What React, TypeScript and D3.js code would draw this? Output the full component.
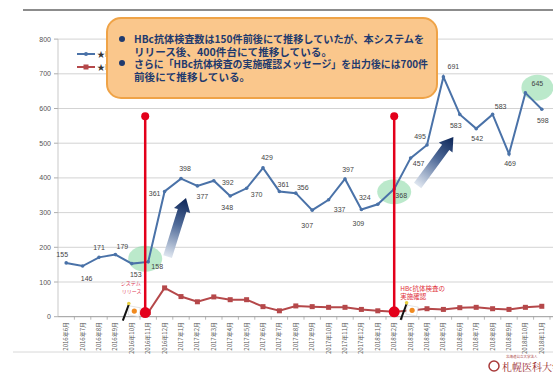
import React from "react";
import * as d3 from "d3";

const months = [
  "2016年6月","2016年7月","2016年8月","2016年9月","2016年10月","2016年11月","2016年12月",
  "2017年1月","2017年2月","2017年3月","2017年4月","2017年5月","2017年6月","2017年7月",
  "2017年8月","2017年9月","2017年10月","2017年11月","2017年12月",
  "2018年1月","2018年2月","2018年3月","2018年4月","2018年5月","2018年6月","2018年7月",
  "2018年8月","2018年9月","2018年10月","2018年11月",
];
const hbcCounts = [155,146,171,179,153,158,361,398,377,392,348,370,429,361,356,307,337,397,309,324,368,457,495,691,583,542,583,469,645,598];
const confirmCounts: (number | null)[] = [null,null,null,null,null,12,83,58,43,57,49,49,29,17,31,29,27,27,21,17,14,18,23,21,26,27,23,21,27,30];
const yTicks = [0,100,200,300,400,500,600,700,800];
const legendLabels = ["★HBc抗体検査数","★HBc抗体検査実施確認数"];
const calloutLines = [
  "HBc抗体検査数は150件前後にて推移していたが、本システムを",
  "リリース後、400件台にて推移している。",
  "さらに「HBc抗体検査の実施確認メッセージ」を出力後には700件",
  "前後にて推移している。",
];
// label placement (style only): [dx, dy]
const labelOffsets: [number, number][] = [
  [-4,-8],[4,12],[0,-10],[7,-8],[4,11],[9,5],[-10,2],[4,-10],[5,11],[14,2],[-3,12],[10,6],
  [4,-10],[4,-7],[7,-6],[-5,15],[11,10],[3,-9],[-3,14],[-13,-7],[7,6],[8,5],[-7,-8],[10,-10],
  [-4,11],[1,10],[8,-8],[1,10],[12,-9],[1,11],
];

const FONT = "'Noto Sans CJK JP', 'Noto Sans', sans-serif";

export default function App() {
  const W = 553, H = 374;
  const x = d3.scalePoint<string>().domain(months).range([58, 550]).padding(0.5);
  const y = d3.scaleLinear().domain([0, 800]).range([316.7, 39.1]);
  const xs = (i: number) => x(months[i]) as number;

  const blueLine = d3.line<number>().x((_, i) => xs(i)).y((d) => y(d));
  const redLine = d3
    .line<number | null>()
    .defined((d) => d != null)
    .x((_, i) => xs(i))
    .y((d) => y(d as number));

  const blue = "#4a72a8";
  const red = "#b5484a";
  const vRed = "#e3001b";

  const arrow = (x0: number, y0: number, x1: number, y1: number, id: string) => {
    const L = Math.hypot(x1 - x0, y1 - y0);
    const ang = (Math.atan2(y1 - y0, x1 - x0) * 180) / Math.PI;
    const hl = 13, sw = 4.5, hw = 8.5;
    const pts = [
      [0, -sw], [L - hl, -sw], [L - hl, -hw], [L, 0], [L - hl, hw], [L - hl, sw], [0, sw],
    ].map((p) => p.join(",")).join(" ");
    return (
      <g transform={`translate(${x0},${y0}) rotate(${ang})`}>
        <linearGradient id={id} x1="0" y1="0" x2={L} y2="0" gradientUnits="userSpaceOnUse">
          <stop offset="0" stopColor="#dfe6f0" />
          <stop offset="0.55" stopColor="#4f6a98" />
          <stop offset="1" stopColor="#0c2557" />
        </linearGradient>
        <polygon points={pts} fill={`url(#${id})`} />
      </g>
    );
  };

  const flag = (cx: number, cy: number) => (
    <g>
      <line x1={cx - 10} y1={cy + 10} x2={cx - 4} y2={cy - 6} stroke="#111" strokeWidth={2} />
      <circle cx={cx - 4} cy={cy - 7} r={1.8} fill="#e8d040" />
      <rect x={cx - 4} y={cy - 4} width={11} height={9} fill="#fff" stroke="#ccc" strokeWidth={0.5} transform={`rotate(10 ${cx} ${cy})`} />
      <circle cx={cx + 1.5} cy={cy + 0.5} r={2.6} fill="#f08a20" />
    </g>
  );

  return (
    <svg width={W} height={H} style={{ position: "absolute", left: 0, top: 0, background: "#fff" }} fontFamily={FONT}>
      {/* top rule */}
      <line x1={23} x2={553} y1={10} y2={10} stroke="#666" strokeWidth={1.5} />
      {/* bottom rule */}
      <line x1={13} x2={553} y1={352} y2={352} stroke="#d8d8d8" strokeWidth={1} />

      {/* grid + y ticks */}
      {yTicks.map((t) => (
        <g key={t}>
          <line x1={58} x2={553} y1={y(t)} y2={y(t)} stroke={t === 0 ? "#999" : "#c8c8c8"} strokeWidth={t === 0 ? 1 : 0.8} />
          <line x1={54} x2={58} y1={y(t)} y2={y(t)} stroke="#999" strokeWidth={0.8} />
          <text x={51} y={y(t) + 2.5} textAnchor="end" fontSize={7} fill="#555" fontFamily="'Liberation Sans', sans-serif">{t}</text>
        </g>
      ))}
      <line x1={58} x2={58} y1={y(800)} y2={y(0)} stroke="#bbb" strokeWidth={0.8} />

      {/* x ticks and labels */}
      {months.map((m, i) => (
        <g key={m}>
          <line x1={xs(i) + 8.2} x2={xs(i) + 8.2} y1={y(0)} y2={y(0) + 3} stroke="#999" strokeWidth={0.7} />
          <text transform={`translate(${xs(i) + 2},${322}) rotate(-90)`} textAnchor="end" fontSize={6} fill="#555">{m}</text>
        </g>
      ))}

      {/* green highlight ellipses */}
      <ellipse cx={xs(5) - 3} cy={y(167)} rx={17} ry={13} fill="#8edaa9" opacity={0.6} />
      <ellipse cx={xs(20)} cy={y(360)} rx={17} ry={12.5} fill="#8edaa9" opacity={0.6} />
      <ellipse cx={xs(28) + 12} cy={y(660)} rx={16} ry={13} fill="#8edaa9" opacity={0.6} />

      {/* red series */}
      <path d={redLine(confirmCounts) || ""} fill="none" stroke={red} strokeWidth={2} />
      {confirmCounts.map((v, i) =>
        v == null ? null : <rect key={i} x={xs(i) - 2.5} y={y(v) - 2.5} width={5} height={5} fill={red} />
      )}

      {/* blue series */}
      <path d={blueLine(hbcCounts) || ""} fill="none" stroke={blue} strokeWidth={2} />
      {hbcCounts.map((v, i) => (
        <circle key={i} cx={xs(i)} cy={y(v)} r={1.8} fill={blue} />
      ))}
      {hbcCounts.map((v, i) => (
        <text key={"l" + i} x={xs(i) + labelOffsets[i][0]} y={y(v) + labelOffsets[i][1] + 2.5} textAnchor="middle" fontSize={7} fill="#444" fontFamily="'Liberation Sans', sans-serif">{v}</text>
      ))}

      {/* arrows */}
      {arrow(xs(6) + 3, y(173), xs(7) + 5, y(342), "ga1")}
      {arrow(xs(21) + 7, y(378), xs(23) + 10, y(518), "ga2")}

      {/* red vertical markers */}
      <line x1={xs(5) - 3} x2={xs(5) - 3} y1={y(578)} y2={y(12)} stroke={vRed} strokeWidth={2.5} />
      <circle cx={xs(5) - 3} cy={y(578)} r={4} fill={vRed} />
      <circle cx={xs(5) - 3} cy={y(12)} r={5.5} fill={vRed} />
      <line x1={xs(20)} x2={xs(20)} y1={y(578)} y2={y(14)} stroke={vRed} strokeWidth={2.5} />
      <circle cx={xs(20)} cy={y(578)} r={4} fill={vRed} />
      <circle cx={xs(20)} cy={y(14)} r={5.5} fill={vRed} />

      {/* red annotations */}
      <text x={xs(4) - 11} y={285} fontSize={5} fill="#e0405a">システム</text>
      <text x={xs(4) - 10} y={293} fontSize={5} fill="#e0405a">リリース</text>
      <text x={xs(20) + 6} y={290.5} fontSize={6.5} fill="#e0303a">HBc抗体検査の</text>
      <text x={xs(20) + 6} y={299} fontSize={6.5} fill="#e0303a">実施確認</text>

      {flag(xs(4) + 1, y(12) - 2)}
      {flag(xs(21), y(14) - 2)}

      {/* legend */}
      <line x1={77} x2={95} y1={54} y2={54} stroke={blue} strokeWidth={2} />
      <circle cx={86} cy={54} r={2} fill={blue} />
      <text x={97} y={57} fontSize={8} fill="#333">{legendLabels[0]}</text>
      <line x1={77} x2={95} y1={67} y2={67} stroke={red} strokeWidth={2} />
      <rect x={83.5} y={64.5} width={5} height={5} fill={red} />
      <text x={97} y={70} fontSize={8} fill="#333">{legendLabels[1]}</text>

      {/* callout */}
      <rect x={107} y={18} width={330} height={80} rx={14} ry={14} fill="#fac78c" stroke="#efa347" strokeWidth={2} />
      <circle cx={122} cy={39} r={3} fill="#1f3a6e" />
      <circle cx={122} cy={63} r={3} fill="#1f3a6e" />
      <text x={134} y={43} fontSize={10.6} fontWeight="bold" fill="#1f3a6e" textLength={290} lengthAdjust="spacingAndGlyphs">{calloutLines[0]}</text>
      <text x={134} y={55.5} fontSize={10.6} fontWeight="bold" fill="#1f3a6e">{calloutLines[1]}</text>
      <text x={134} y={67.5} fontSize={10.6} fontWeight="bold" fill="#1f3a6e" textLength={294} lengthAdjust="spacingAndGlyphs">{calloutLines[2]}</text>
      <text x={134} y={81} fontSize={10.6} fontWeight="bold" fill="#1f3a6e">{calloutLines[3]}</text>

      {/* logo */}
      <g>
        <circle cx={494} cy={366} r={5} fill="none" stroke="#a83a3a" strokeWidth={1.5} />
        <text x={506} y={358} fontSize={3.5} fill="#a83a3a">北海道公立大学法人</text>
        <text x={502} y={371} fontSize={10} fill="#9a2a2a" fontFamily="'Noto Serif CJK JP', 'Noto Sans CJK JP', serif">札幌医科大学</text>
      </g>
    </svg>
  );
}
